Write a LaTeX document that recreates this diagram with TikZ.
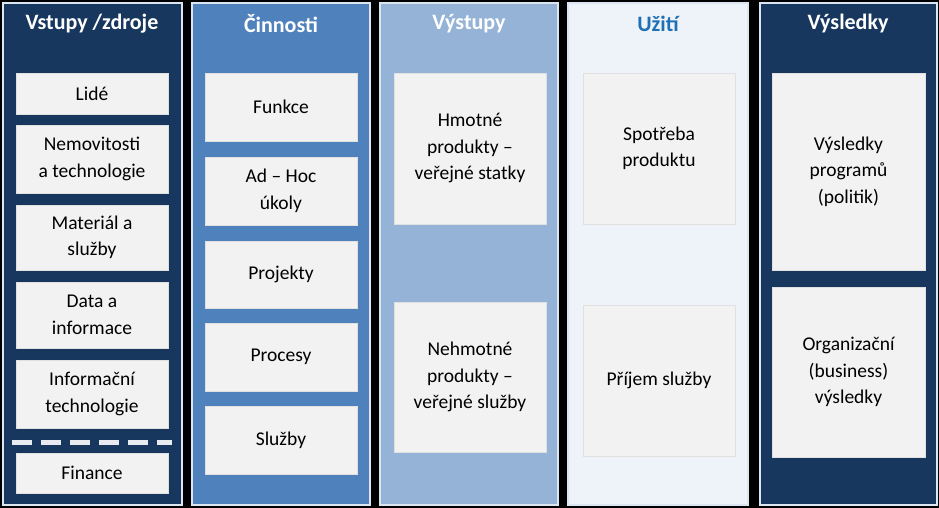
\documentclass[tikz,border=0pt]{standalone}
\usepackage{fontspec}
\setmainfont{Carlito}
\begin{document}
\begin{tikzpicture}[x=1pt,y=-1pt,
 col/.style={draw=colborder,line width=1.5pt},
 ib/.style={fill=boxgray,draw=boxedge,line width=0.6pt,align=center,font=\fontsize{19.5}{26.5}\selectfont,text=black},
 ttl/.style={font=\bfseries\fontsize{22}{26}\selectfont,text=white}]
\definecolor{colborder}{HTML}{DCE6F2}
\definecolor{boxgray}{HTML}{F2F2F2}
\definecolor{boxedge}{HTML}{E0E0E0}
\definecolor{cA}{HTML}{17375E}
\definecolor{cB}{HTML}{4F81BD}
\definecolor{cC}{HTML}{95B3D7}
\definecolor{cD}{HTML}{EEF3FA}
\definecolor{tD}{HTML}{1F6FB5}
\fill[black] (0,0) rectangle (939,508);
\useasboundingbox (0,0) rectangle (939,508);
\fill[cA] (3,3) rectangle (182,505); \draw[col] (3,3) rectangle (182,505);
\fill[cB] (192,3) rectangle (370,505); \draw[col] (192,3) rectangle (370,505);
\fill[cC] (380,3) rectangle (558,505); \draw[col] (380,3) rectangle (558,505);
\fill[cD] (568,3) rectangle (748,505); \draw[col] (568,3) rectangle (748,505);
\fill[cA] (760,3) rectangle (937,505); \draw[col] (760,3) rectangle (937,505);
\node[ttl] (t1) at (92,24) {Vstupy /zdroje};
\node[ttl] (t2) at (281,24) {Činnosti};
\node[ttl] (t3) at (469,24) {Výstupy};
\node[ttl,text=tD] (t4) at (658,24) {Užití};
\node[ttl] (t5) at (848,24) {Výsledky};
\newcommand\bx[6]{\node[ib,minimum width=#3-#2,minimum height=#5-#4] (#1) at ({(#2+#3)/2},{(#4+#5)/2}) {#6};}
\bx{a1}{16}{168}{73}{114}{Lidé}
\bx{a2}{16}{168}{125}{193}{Nemovitosti\\a technologie}
\bx{a3}{16}{168}{205}{270}{Materiál a\\služby}
\bx{a4}{16}{168}{282}{348}{Data a\\informace}
\bx{a5}{16}{168}{360}{428}{Informační\\technologie}
\bx{a6}{16}{168}{453}{493}{Finance}
\draw[white!90!cA,line width=5pt,dash pattern=on 20pt off 9pt] (12,442) -- (172,442);
\bx{b1}{205}{357}{73}{141}{Funkce}
\bx{b2}{205}{357}{157}{225}{Ad -- Hoc\\úkoly}
\bx{b3}{205}{357}{241}{308}{Projekty}
\bx{b4}{205}{357}{323}{391}{Procesy}
\bx{b5}{205}{357}{406}{474}{Služby}
\bx{c1}{394}{546}{73}{224}{Hmotné\\produkty --\\veřejné statky}
\bx{c2}{394}{546}{302}{452}{Nehmotné\\produkty --\\veřejné služby}
\bx{d1}{583}{735}{73}{224}{Spotřeba\\produktu}
\bx{d2}{583}{735}{305}{456}{Příjem služby}
\bx{e1}{772}{925}{73}{270}{Výsledky\\programů\\(politik)}
\bx{e2}{772}{925}{287}{457}{Organizační\\(business)\\výsledky}
\end{tikzpicture}
\end{document}
